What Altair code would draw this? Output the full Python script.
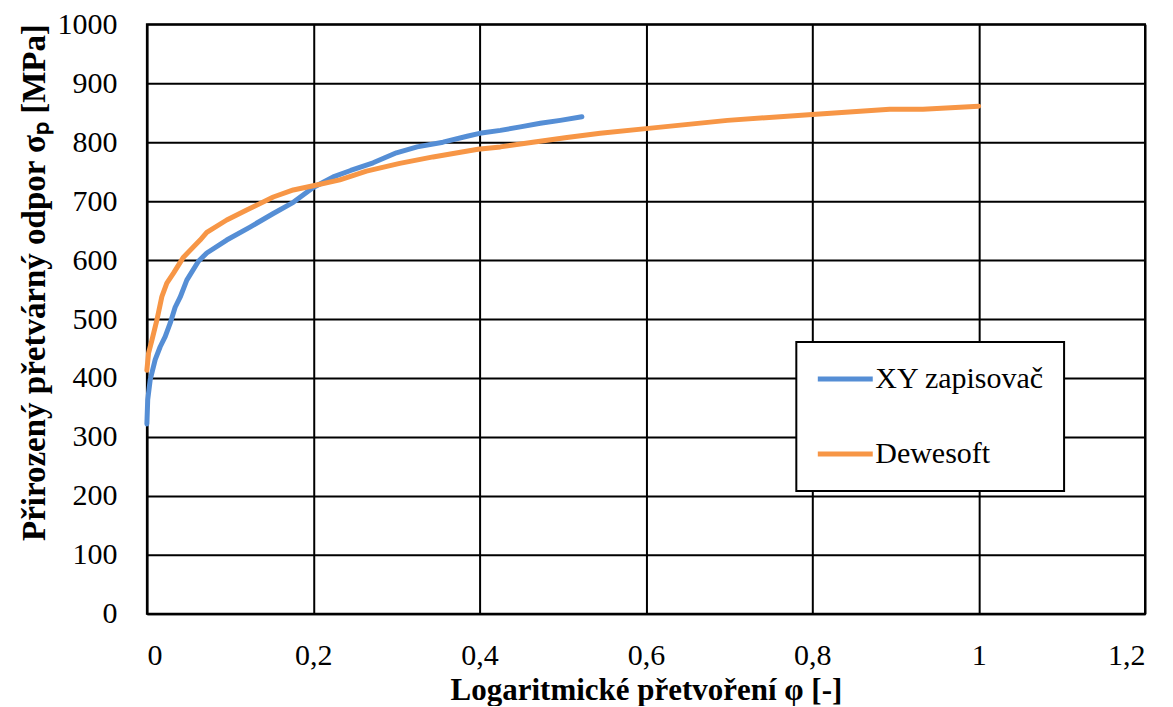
import altair as alt
import pandas as pd

# --- data ---
xy_x = [0.0, 0.001, 0.004, 0.010, 0.016, 0.022, 0.028, 0.034, 0.040, 0.048, 0.062, 0.072,
        0.096, 0.124, 0.152, 0.176, 0.200, 0.224, 0.245, 0.272, 0.300, 0.325, 0.356,
        0.385, 0.400, 0.425, 0.449, 0.473, 0.497, 0.523]
xy_y = [322, 363, 397, 431, 453, 470, 493, 520, 537, 566, 598, 612,
        634, 656, 679, 698, 723, 741, 752, 765, 782, 792, 800,
        810, 815, 820, 826, 832, 837, 843]

dw_x = [0.0, 0.002, 0.006, 0.012, 0.018, 0.024, 0.032, 0.044, 0.064, 0.072, 0.096,
        0.120, 0.152, 0.176, 0.200, 0.232, 0.264, 0.304, 0.344, 0.398, 0.425, 0.464,
        0.505, 0.545, 0.600, 0.698, 0.800, 0.893, 0.933, 1.000]
dw_y = [413, 442, 464, 498, 538, 561, 578, 605, 634, 647, 668,
        685, 707, 719, 726, 736, 751, 764, 775, 788, 792, 800,
        808, 815, 823, 837, 847, 856, 856, 861]

series_names = ["XY zapisovač", "Dewesoft"]
series_colors = ["#558ED5", "#F79646"]
x_ticks = [0, 0.2, 0.4, 0.6, 0.8, 1.0, 1.2]
y_ticks = [0, 100, 200, 300, 400, 500, 600, 700, 800, 900, 1000]

df = pd.concat([
    pd.DataFrame({"x": xy_x, "y": xy_y, "series": series_names[0]}),
    pd.DataFrame({"x": dw_x, "y": dw_y, "series": series_names[1]}),
], ignore_index=True)

FONT = "Liberation Serif"

chart = alt.Chart(df).mark_line(
    strokeWidth=5, strokeCap="round", strokeJoin="round"
).encode(
    x=alt.X("x:Q",
            scale=alt.Scale(domain=[0, 1.2], nice=False, zero=False),
            axis=alt.Axis(values=x_ticks,
                          labelExpr="replace(format(datum.value, '.1~f'), '.', ',')",
                          title="Logaritmické přetvoření φ [-]",
                          titleFontSize=31,
                          titleY=86, titleBaseline="alphabetic",
                          labelPadding=27, labelBaseline="top")),
    y=alt.Y("y:Q",
            scale=alt.Scale(domain=[0, 1000], nice=False),
            axis=alt.Axis(values=y_ticks, format="d",
                          title="Přirozený  přetvárný odpor σₚ [MPa]",
                          titleFontSize=33,
                          titleX=-102, titleY=258, titleBaseline="alphabetic",
                          titleAngle=270,
                          labelPadding=30)),
    color=alt.Color("series:N",
                    scale=alt.Scale(domain=series_names, range=series_colors),
                    legend=alt.Legend(title=None, orient="none", legendX=650, legendY=318,
                                      symbolType="stroke", symbolSize=3025,
                                      symbolStrokeWidth=5,
                                      labelFont=FONT, labelFontSize=30, labelColor="black",
                                      labelLimit=0, clipHeight=36,
                                      labelOffset=0, padding=19, rowPadding=39,
                                      strokeColor="black", fillColor="white")),
    order=alt.Order("x:Q"),
).properties(
    width=999, height=590,
    autosize=alt.AutoSizeParams(type="none"),
    padding={"left": 139, "top": 16, "right": 20, "bottom": 92},
).configure_view(
    stroke="black", strokeWidth=2
).configure_axis(
    grid=True, gridColor="black", gridWidth=2, gridOpacity=1,
    domain=True, domainColor="black", domainWidth=2,
    ticks=False, tickSize=0,
    labelFont=FONT, labelFontSize=30, labelColor="black",
    titleFont=FONT, titleFontWeight="bold", titleColor="black",
).configure_legend(
    strokeWidth=2
)

chart.save("out.html", embed_options={"renderer": "svg", "actions": False})
